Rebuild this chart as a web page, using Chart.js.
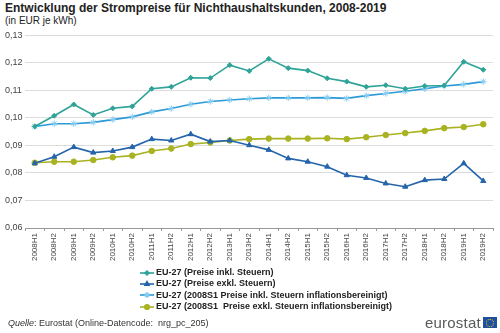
<!DOCTYPE html>
<html>
<head>
<meta charset="utf-8">
<script src="https://cdn.jsdelivr.net/npm/chart.js@4"></script>
<style>
  body { margin: 0; width: 500px; height: 333px; background: #fff; font-family: "Liberation Sans", Arial, sans-serif; position: relative; overflow: hidden; }
  #title { position: absolute; left: 5px; top: 1px; font-size: 12px; font-weight: bold; color: #222; white-space: nowrap; }
  #subtitle { position: absolute; left: 5px; top: 15px; font-size: 10px; color: #222; }
  #wrap { position: absolute; left: 0; top: 25px; width: 500px; height: 247px; }
  #legend { position: absolute; left: 140px; top: 267px; font-size: 9px; font-weight: bold; color: #222; }
  #legend div { height: 11.4px; line-height: 11.4px; white-space: nowrap; display: flex; align-items: center; }
  #legend canvas { margin-right: 2px; }
  #source { position: absolute; left: 8px; top: 318px; font-size: 9px; color: #333; }
  #logo { position: absolute; left: 425px; top: 314px; font-size: 15px; color: #58595b; letter-spacing: 0.2px; display: flex; align-items: center; }
  #flag { display: inline-block; width: 14px; height: 11px; background: #1f4f9f; margin-left: 2px; position: relative; }
  #flag::after { content: ""; position: absolute; left: 3px; top: 1.5px; width: 6px; height: 6px; border: 1px dotted #f5d000; border-radius: 50%; }
</style>
</head>
<body>
<div id="title">Entwicklung der Strompreise für Nichthaushaltskunden, 2008-2019</div>
<div id="subtitle">(in EUR je kWh)</div>
<div id="wrap"><canvas id="chart"></canvas></div>
<div id="legend"></div>
<div id="source"><i>Quelle</i>: Eurostat (Online-Datencode:&nbsp; nrg_pc_205)</div>
<div id="logo">eurostat<span id="flag"></span></div>
<script>
const periods = [
  '2008H1', '2008H2', '2009H1', '2009H2', '2010H1', '2010H2',
  '2011H1', '2011H2', '2012H1', '2012H2', '2013H1', '2013H2',
  '2014H1', '2014H2', '2015H1', '2015H2', '2016H1', '2016H2',
  '2017H1', '2017H2', '2018H1', '2018H2', '2019H1', '2019H2'
];

const inklSteuern = [
  0.0969, 0.1008, 0.1049, 0.1011, 0.1035, 0.1042,
  0.1106, 0.1113, 0.1146, 0.1145, 0.1192, 0.1171,
  0.1215, 0.1181, 0.1172, 0.1144, 0.1132, 0.1113,
  0.1119, 0.1106, 0.1116, 0.1118, 0.1204, 0.1175
];
const exklSteuern = [
  0.0835, 0.0859, 0.0894, 0.0874, 0.0880, 0.0894,
  0.0923, 0.0918, 0.0941, 0.0914, 0.0918, 0.0901,
  0.0884, 0.0853, 0.0841, 0.0823, 0.0792, 0.0782,
  0.0762, 0.0750, 0.0774, 0.0778, 0.0835, 0.0771
];
const inklInflation = [
  0.0969, 0.0979, 0.0979, 0.0984, 0.0994, 0.1004,
  0.1022, 0.1034, 0.1050, 0.1060, 0.1065, 0.1070,
  0.1073, 0.1073, 0.1073, 0.1074, 0.1071, 0.1081,
  0.1089, 0.1097, 0.1106, 0.1116, 0.1122, 0.1132
];
const exklInflation = [
  0.0837, 0.0841, 0.0841, 0.0847, 0.0857, 0.0863,
  0.0880, 0.0889, 0.0905, 0.0911, 0.0918, 0.0923,
  0.0925, 0.0925, 0.0925, 0.0926, 0.0923, 0.0930,
  0.0938, 0.0945, 0.0953, 0.0963, 0.0967, 0.0977
];

const yTicks = [0.06, 0.07, 0.08, 0.09, 0.10, 0.11, 0.12, 0.13];

const series = [
  { label: 'EU-27 (Preise inkl. Steuern)', data: inklSteuern, line: '#2ea397', point: '#2ea397', style: 'rectRot', radius: 2.5 },
  { label: 'EU-27 (Preise exkl. Steuern)', data: exklSteuern, line: '#2464ab', point: '#2464ab', style: 'triangle', radius: 3 },
  { label: 'EU-27 (2008S1 Preise inkl. Steuern inflationsbereinigt)', data: inklInflation, line: '#2a9ad8', point: '#86cdf1', style: 'star', radius: 3.2 },
  { label: 'EU-27 (2008S1  Preise exkl. Steuern inflationsbereinigt)', data: exklInflation, line: '#a9b322', point: '#a9b322', style: 'circle', radius: 2.8 }
];

const ctx = document.getElementById('chart').getContext('2d');
const chart = new Chart(ctx, {
  type: 'line',
  data: {
    labels: periods,
    datasets: series.map(s => ({
      label: s.label,
      data: s.data,
      borderColor: s.line,
      backgroundColor: s.point,
      pointBorderColor: s.point,
      pointBackgroundColor: s.point,
      pointStyle: s.style,
      pointRadius: s.radius,
      pointBorderWidth: 1,
      borderWidth: 1.6,
      tension: 0
    }))
  },
  options: {
    responsive: true,
    maintainAspectRatio: false,
    animation: false,
    layout: { padding: { top: 6, right: 7, left: 5, bottom: 0 } },
    plugins: { legend: { display: false }, tooltip: { enabled: false } },
    scales: {
      x: {
        offset: true,
        grid: { display: true, drawOnChartArea: false, drawTicks: true, tickLength: 3, offset: true, color: '#999' },
        border: { color: '#999' },
        ticks: {
          font: { family: 'Liberation Sans', size: 8 },
          color: '#444',
          minRotation: 90,
          maxRotation: 90,
          autoSkip: false,
          padding: 2
        },
        afterFit: scale => { scale.height = 44; }
      },
      y: {
        min: 0.06,
        max: 0.13,
        afterBuildTicks: scale => { scale.ticks = yTicks.map(v => ({ value: v })); },
        grid: { color: '#dcdcdc', drawTicks: false },
        border: { display: false },
        ticks: {
          font: { family: 'Liberation Sans', size: 9 },
          color: '#444',
          crossAlign: 'far',
          padding: 5,
          callback: v => v.toFixed(2).replace('.', ',')
        },
        afterFit: scale => { scale.width = 20; }
      }
    }
  }
});

// legend rows: short line with the series marker, then the label
const legend = document.getElementById('legend');
series.forEach(s => {
  const row = document.createElement('div');
  const c = document.createElement('canvas');
  c.width = 14; c.height = 10;
  const g = c.getContext('2d');
  g.strokeStyle = s.line;
  g.lineWidth = 1.6;
  g.beginPath(); g.moveTo(0, 5); g.lineTo(14, 5); g.stroke();
  g.fillStyle = s.point; g.strokeStyle = s.point; g.lineWidth = 1.2;
  Chart.helpers.drawPoint(g, { pointStyle: s.style, radius: s.radius * 0.9, borderWidth: 1 }, 7, 5);
  row.appendChild(c);
  const span = document.createElement('span');
  span.textContent = s.label;
  span.style.whiteSpace = 'pre';
  row.appendChild(span);
  legend.appendChild(row);
});
</script>
</body>
</html>
